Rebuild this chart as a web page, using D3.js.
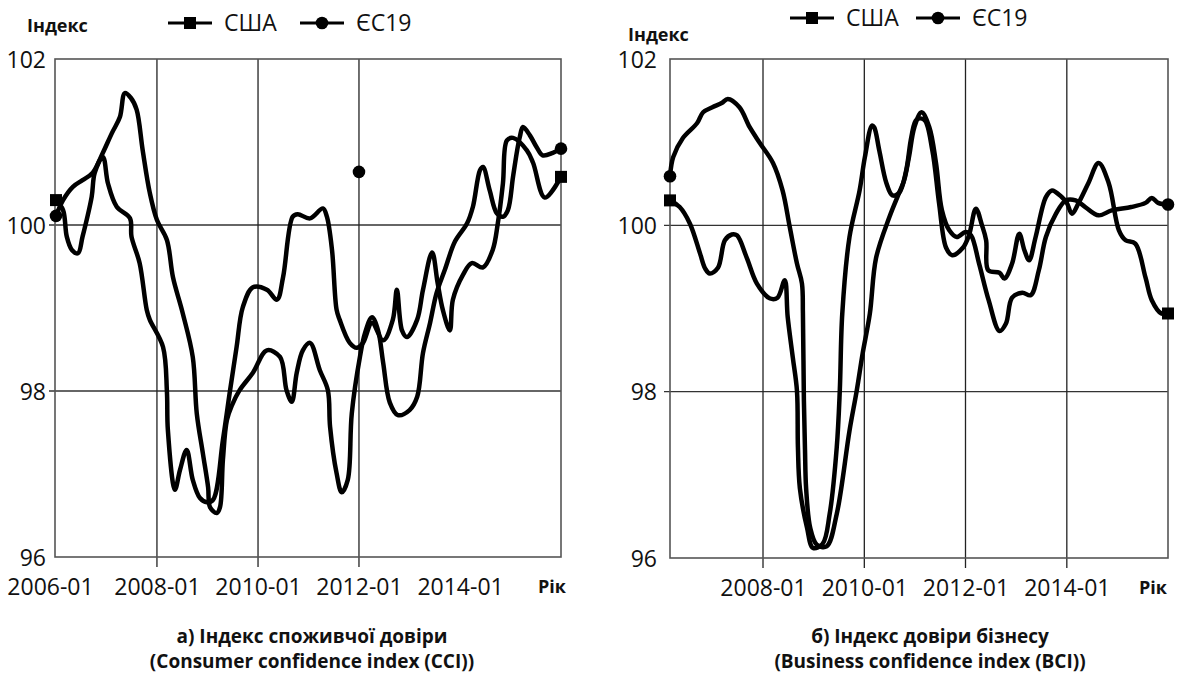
<!DOCTYPE html>
<html><head><meta charset="utf-8">
<script src="https://cdn.jsdelivr.net/npm/d3@7"></script>
<style>
body{margin:0;background:#fff}
svg{display:block}
text{font-family:"Open Sans",sans-serif;fill:#111}
</style>
</head><body>
<svg id="chart" width="1178" height="682"></svg>
<script>
// ---------------- DATA ----------------
const yTicks = [96, 98, 100, 102];
const leftXTicks = ["2006-01", "2008-01", "2010-01", "2012-01", "2014-01"];
const leftGridTicks = ["2008-01", "2010-01", "2012-01"];
const rightXTicks = ["2008-01", "2010-01", "2012-01", "2014-01"];
const rightGridTicks = ["2008-01", "2010-01", "2012-01", "2014-01"];
const seriesNames = ["США", "ЄС19"];
const axisTitleY = "Індекс";
const axisTitleX = "Рік";
const captionLeft = ["а) Індекс споживчої довіри", "(Consumer confidence index (CCI))"];
const captionRight = ["б) Індекс довіри бізнесу", "(Business confidence index (BCI))"];

// Consumer confidence index, USA
const cciUS = [
["2006-01-01",100.30],["2006-02-21",100.18],["2006-03-20",99.86],["2006-04-26",99.70],["2006-06-09",99.66],
["2006-07-12",99.86],["2006-09-16",100.34],["2006-10-08",100.63],["2006-12-06",100.82],["2007-01-12",100.50],
["2007-03-16",100.22],["2007-06-20",100.08],["2007-07-01",99.86],["2007-08-29",99.54],["2007-10-19",98.98],
["2007-11-10",98.86],["2008-02-14",98.53],["2008-03-13",98.00],["2008-03-20",97.53],["2008-05-10",96.81],
["2008-06-16",97.05],["2008-08-03",97.29],["2008-09-16",96.93],["2008-11-07",96.71],["2008-12-27",96.66],
["2009-02-10",96.69],["2009-04-22",97.41],["2009-06-13",98.01],["2009-07-30",98.53],["2009-09-13",99.01],
["2009-11-25",99.25],["2010-03-06",99.22],["2010-05-18",99.10],["2010-07-01",99.37],["2010-09-09",100.10],
["2010-10-15",100.13],["2011-01-12",100.08],["2011-04-15",100.20],["2011-05-14",100.10],["2011-06-20",99.70],
["2011-07-23",98.98],["2011-08-14",98.86],["2011-10-26",98.58],["2011-12-17",98.52],["2012-01-30",98.58],
["2012-04-04",98.82],["2012-06-24",98.61],["2012-09-02",98.86],["2012-10-01",99.22],["2012-11-07",98.73],
["2012-12-13",98.65],["2013-02-25",98.86],["2013-04-08",99.22],["2013-06-13",99.67],["2013-07-23",99.30],
["2013-08-29",98.98],["2013-10-19",98.73],["2013-11-10",99.10],["2014-01-22",99.40],["2014-03-27",99.54],
["2014-06-16",99.49],["2014-08-25",99.70],["2014-10-01",100.02],["2014-11-07",100.50],["2014-12-06",101.02],
["2015-01-19",101.05],["2015-04-29",100.90],["2015-06-13",100.75],["2015-09-06",100.33],["2016-01-01",100.58]
];
// Consumer confidence index, EU19
const cciEU = [
["2006-01-01",100.11],["2006-02-21",100.30],["2006-05-03",100.46],["2006-07-12",100.54],["2006-09-24",100.63],
["2006-12-06",100.87],["2007-02-10",101.11],["2007-04-08",101.30],["2007-05-14",101.59],["2007-06-27",101.53],
["2007-08-07",101.39],["2007-09-20",100.90],["2007-11-10",100.39],["2008-01-01",100.06],["2008-03-13",99.82],
["2008-04-26",99.37],["2008-07-05",98.94],["2008-09-16",98.41],["2008-10-15",97.73],["2008-11-28",97.25],
["2009-01-05",96.84],["2009-01-19",96.60],["2009-03-09",96.53],["2009-04-01",96.60],["2009-04-22",97.17],
["2009-05-21",97.65],["2009-06-27",97.83],["2009-08-21",98.01],["2009-11-25",98.22],["2010-03-06",98.49],
["2010-06-09",98.41],["2010-07-26",98.01],["2010-09-02",97.87],["2010-10-08",98.22],["2010-11-21",98.49],
["2011-01-12",98.58],["2011-03-24",98.25],["2011-05-21",98.01],["2011-06-06",97.57],["2011-07-23",97.01],
["2011-08-29",96.78],["2011-10-12",96.93],["2011-11-10",97.73],["2012-01-08",98.41],["2012-02-14",98.70],
["2012-04-04",98.89],["2012-05-18",98.73],["2012-06-24",98.34],["2012-08-11",97.86],["2012-10-08",97.71],
["2013-01-01",97.77],["2013-02-25",97.93],["2013-04-08",98.46],["2013-05-29",98.82],["2013-07-15",99.18],
["2013-09-13",99.46],["2013-11-25",99.80],["2014-02-21",100.02],["2014-04-04",100.22],["2014-05-25",100.66],
["2014-06-16",100.70],["2014-08-03",100.42],["2014-09-24",100.14],["2014-11-07",100.10],["2014-12-13",100.18],
["2015-01-19",100.58],["2015-02-18",100.90],["2015-03-09",101.06],["2015-04-01",101.18],["2015-05-21",101.08],
["2015-07-08",100.94],["2015-08-21",100.84],["2015-11-03",100.87],["2016-01-01",100.92]
];
const cciEUExtra = [["2012-01-01",100.64]];

// Business confidence index, USA
const bciUS = [
["2006-03-01",100.30],["2006-05-10",100.22],["2006-07-23",100.02],["2006-10-04",99.66],["2006-11-10",99.48],
["2006-12-13",99.42],["2007-02-10",99.49],["2007-04-01",99.82],["2007-05-21",99.89],["2007-06-27",99.88],
["2007-09-06",99.61],["2007-11-18",99.30],["2008-02-21",99.12],["2008-04-15",99.13],["2008-06-06",99.34],
["2008-06-27",98.90],["2008-08-03",98.41],["2008-09-02",98.01],["2008-09-09",97.33],["2008-09-23",96.84],
["2008-11-14",96.36],["2008-12-27",96.12],["2009-03-06",96.17],["2009-04-26",96.53],["2009-06-16",97.33],
["2009-07-08",98.01],["2009-07-26",98.94],["2009-09-16",99.86],["2009-11-28",100.42],["2010-01-05",100.82],
["2010-02-25",101.20],["2010-03-13",101.18],["2010-04-19",100.90],["2010-06-09",100.51],["2010-07-23",100.36],
["2010-09-09",100.39],["2010-10-30",100.66],["2010-12-06",101.06],["2011-01-12",101.27],["2011-03-09",101.27],
["2011-05-07",100.90],["2011-06-24",100.27],["2011-08-14",99.73],["2011-09-27",99.64],["2011-12-13",99.73],
["2012-01-26",99.88],["2012-03-16",100.20],["2012-04-29",100.00],["2012-05-29",99.82],["2012-06-13",99.46],
["2012-09-02",99.43],["2012-10-08",99.36],["2012-12-02",99.54],["2013-01-23",99.90],["2013-03-01",99.70],
["2013-04-04",99.58],["2013-05-21",99.86],["2013-08-03",100.34],["2013-09-16",100.42],["2013-11-25",100.34],
["2014-01-01",100.27],["2014-02-07",100.14],["2014-03-27",100.27],["2014-06-06",100.51],["2014-08-18",100.75],
["2014-10-30",100.51],["2015-01-12",99.94],["2015-03-01",99.82],["2015-05-10",99.78],["2015-07-23",99.37],
["2015-09-06",99.10],["2015-11-14",98.94],["2016-01-01",98.94]
];
// Business confidence index, EU19
const bciEU = [
["2006-03-01",100.59],["2006-03-24",100.82],["2006-06-02",101.05],["2006-09-13",101.23],["2006-10-26",101.36],
["2007-01-01",101.42],["2007-03-09",101.47],["2007-04-22",101.52],["2007-07-15",101.42],["2007-09-27",101.18],
["2007-12-09",100.99],["2008-03-13",100.75],["2008-05-21",100.42],["2008-07-12",99.98],["2008-09-02",99.54],
["2008-10-08",99.30],["2008-10-15",98.94],["2008-10-22",97.90],["2008-10-30",97.30],["2008-11-07",96.84],
["2008-12-07",96.36],["2009-01-23",96.16],["2009-04-04",96.14],["2009-06-16",96.53],["2009-09-16",97.53],
["2009-11-07",98.01],["2009-12-20",98.46],["2010-02-10",98.94],["2010-03-27",99.61],["2010-07-01",100.10],
["2010-09-09",100.39],["2010-10-15",100.54],["2010-11-21",100.84],["2010-12-28",101.18],["2011-02-18",101.36],
["2011-04-15",101.18],["2011-06-02",100.75],["2011-07-15",100.18],["2011-09-06",99.94],["2011-10-30",99.86],
["2012-01-01",99.92],["2012-02-10",99.88],["2012-04-08",99.54],["2012-06-16",99.10],["2012-09-02",98.73],
["2012-10-19",98.82],["2012-12-02",99.13],["2013-02-14",99.19],["2013-04-15",99.16],["2013-06-13",99.46],
["2013-08-03",99.86],["2013-10-15",100.14],["2013-12-24",100.30],["2014-03-06",100.30],["2014-05-14",100.22],
["2014-08-18",100.12],["2014-11-21",100.18],["2015-04-11",100.22],["2015-07-23",100.27],["2015-09-06",100.33],
["2015-10-22",100.27],["2016-01-01",100.25]
];

// ---------------- DRAW ----------------
const svg = d3.select("#chart");
const parseD = d3.timeParse("%Y-%m-%d");
const parseM = d3.timeParse("%Y-%m");
const fmtM = d3.timeFormat("%Y-%m");
const FS_TICK = "23px", FS_LEG = "23px", FS_BOLD = "18px", FS_CAP = "19px";

function drawPanel(cfg) {
  const g = svg.append("g");
  const x = d3.scaleTime().domain(cfg.domain.map(parseD)).range([cfg.rx0, cfg.rx1]);
  const y = d3.scaleLinear().domain([96, 102]).range([cfg.bottom, cfg.top]);

  // horizontal grid
  g.selectAll("line.hg").data([98, 100]).join("line")
    .attr("x1", cfg.fx0 - 6).attr("x2", cfg.fx1)
    .attr("y1", d => y(d)).attr("y2", d => y(d))
    .attr("stroke", "#333").attr("stroke-width", 1.3);
  // vertical grid + ticks
  g.selectAll("line.vg").data(cfg.grid.map(parseM)).join("line")
    .attr("x1", d => x(d)).attr("x2", d => x(d))
    .attr("y1", cfg.top).attr("y2", cfg.bottom + 10)
    .attr("stroke", "#222").attr("stroke-width", 1.3);
  // frame
  g.append("rect").attr("x", cfg.fx0).attr("y", cfg.top)
    .attr("width", cfg.fx1 - cfg.fx0).attr("height", cfg.bottom - cfg.top)
    .attr("fill", "none").attr("stroke", "#555").attr("stroke-width", 1.6);

  // y axis labels
  const ya = g.append("g").attr("transform", `translate(${cfg.fx0 - cfg.yLabGap},0)`)
    .call(d3.axisLeft(y).tickValues(yTicks).tickSize(0).tickPadding(0).tickFormat(d3.format("d")));
  ya.select(".domain").remove();
  ya.selectAll("text").style("font-size", FS_TICK).style("font-family", "'Open Sans',sans-serif").attr("fill", "#111").attr("dy", "0.35em");

  // x axis labels
  const xa = g.append("g").attr("transform", `translate(0,${cfg.bottom})`)
    .call(d3.axisBottom(x).tickValues(cfg.labels.map(parseM)).tickSize(0).tickPadding(0).tickFormat(fmtM));
  xa.select(".domain").remove();
  xa.selectAll("text").style("font-size", FS_TICK).style("font-family", "'Open Sans',sans-serif")
    .attr("fill", "#111").attr("y", 30).attr("dy", "0.35em")
    .attr("dx", (d, i) => (i === 0 && cfg.firstLabelShift) ? cfg.firstLabelShift : 0);

  // axis titles
  g.append("text").attr("x", cfg.xTitleX).attr("y", cfg.bottom + 30).attr("dy", "0.35em")
    .attr("text-anchor", "middle").style("font-size", FS_BOLD).style("font-weight", "700").text(axisTitleX);
  g.append("text").attr("x", cfg.yTitleX).attr("y", cfg.yTitleY).attr("dy", "0.35em")
    .style("font-size", FS_BOLD).style("font-weight", "700").text(axisTitleY);

  // lines
  const line = d3.line().x(d => x(parseD(d[0]))).y(d => y(d[1])).curve(d3.curveCatmullRom.alpha(0.5));
  [cfg.us, cfg.eu].forEach(s => {
    g.append("path").datum(s).attr("d", line).attr("fill", "none")
      .attr("stroke", "#000").attr("stroke-width", 4.5).attr("stroke-linejoin", "round").attr("stroke-linecap", "round");
  });
  // markers
  const usEnds = [cfg.us[0], cfg.us[cfg.us.length - 1]];
  g.selectAll("rect.m").data(usEnds).join("rect")
    .attr("x", d => x(parseD(d[0])) - 6).attr("y", d => y(d[1]) - 6)
    .attr("width", 12).attr("height", 12).attr("fill", "#000");
  const euEnds = [cfg.eu[0], cfg.eu[cfg.eu.length - 1]].concat(cfg.extra || []);
  g.selectAll("circle.m").data(euEnds).join("circle")
    .attr("cx", d => x(parseD(d[0]))).attr("cy", d => y(d[1])).attr("r", 6.3).attr("fill", "#000");

  // legend
  const lg = g.append("g").attr("transform", `translate(${cfg.legX},${cfg.legY})`);
  seriesNames.forEach((name, i) => {
    const ox = i * cfg.legStep;
    lg.append("line").attr("x1", ox).attr("x2", ox + 44).attr("y1", 0).attr("y2", 0)
      .attr("stroke", "#000").attr("stroke-width", 3);
    if (i === 0) lg.append("rect").attr("x", ox + 16).attr("y", -6).attr("width", 12).attr("height", 12).attr("fill", "#000");
    else lg.append("circle").attr("cx", ox + 22).attr("cy", 0).attr("r", 6.3).attr("fill", "#000");
    lg.append("text").attr("x", ox + 56).attr("y", 0).attr("dy", "0.35em").style("font-size", FS_LEG).text(name);
  });

  // caption
  cfg.caption.forEach((t, i) => {
    g.append("text").attr("x", cfg.capX).attr("y", 636 + i * 25).attr("dy", "0.35em")
      .attr("text-anchor", "middle").style("font-size", FS_CAP).style("font-weight", "700").text(t);
  });
}

drawPanel({
  domain: ["2006-01-01", "2016-01-01"], rx0: 56, rx1: 561,
  fx0: 55, fx1: 561, top: 59, bottom: 557, yLabGap: 9,
  grid: leftGridTicks, labels: leftXTicks, firstLabelShift: -6,
  us: cciUS, eu: cciEU, extra: cciEUExtra,
  xTitleX: 552, yTitleX: 27, yTitleY: 26,
  legX: 168, legY: 23, legStep: 132, capX: 312, caption: captionLeft
});
drawPanel({
  domain: ["2006-03-01", "2016-01-01"], rx0: 670, rx1: 1168,
  fx0: 670, fx1: 1168, top: 59, bottom: 558, yLabGap: 13,
  grid: rightGridTicks, labels: rightXTicks,
  us: bciUS, eu: bciEU, extra: [],
  xTitleX: 1153, yTitleX: 628, yTitleY: 35,
  legX: 790, legY: 18, legStep: 126, capX: 930, caption: captionRight
});
</script>
</body></html>
